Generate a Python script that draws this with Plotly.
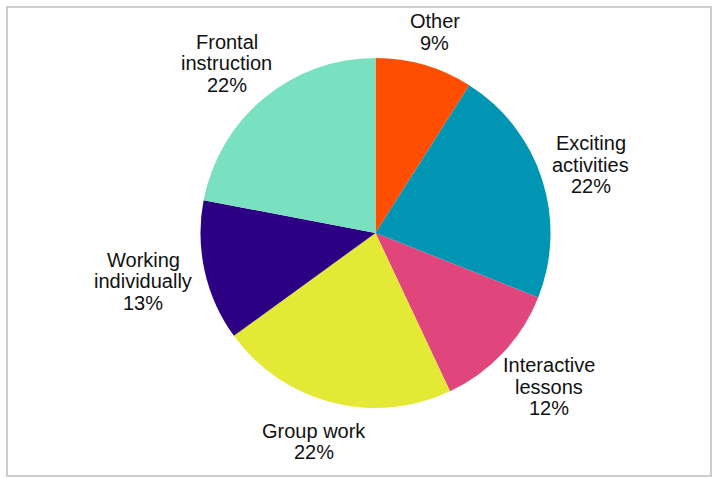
import math
import plotly.graph_objects as go

# Share of each teaching approach, clockwise from 12 o'clock
categories = ["Other", "Exciting<br>activities", "Interactive<br>lessons", "Group work",
              "Working<br>individually", "Frontal<br>instruction"]
shares = [9, 22, 12, 22, 13, 22]
colors = ["#FF4E00", "#0095B3", "#E0467C", "#E3E935", "#2D0083", "#7AE1C0"]

W, H = 715, 479
cx, cy, r = 375.5, 233, 175          # pie centre (px from top-left) and radius
FS, LS = 20, 21.5                    # label font size and line step
GAP, GAP_BELOW = 13, 6               # clearance from rim (+ extra under the pie)
FONT = "Liberation Sans, Arial, sans-serif"

# Approximate Arial advance widths (em) used to size each label line
_W = {"O": .778, "E": .667, "I": .278, "G": .778, "W": .944, "F": .611,
      "%": .889, " ": .278, "f": .278, "i": .222, "j": .222, "l": .222,
      "t": .278, "r": .333, "c": .5, "k": .5, "s": .5, "v": .5, "x": .5,
      "y": .5, "z": .5, "w": .722, "m": .833}


def text_width(s):
    return sum(_W.get(ch, .556) for ch in s) * FS


fig = go.Figure(go.Pie(
    labels=[c.replace("<br>", " ") for c in categories],
    values=shares,
    sort=False,
    direction="clockwise",
    rotation=0,
    marker=dict(colors=colors, line=dict(width=0)),
    textinfo="none",
    hoverinfo="label+value",
    showlegend=False,
    domain=dict(x=[(cx - r) / W, (cx + r) / W], y=[(H - cy - r) / H, (H - cy + r) / H]),
))

# Data labels: each block sits outside the rim at its slice's mid-angle and is
# shifted outward by its half-width / half-height scaled by that direction.
annotations = []
total = sum(shares)
cum = 0
for name, v in zip(categories, shares):
    mid = (cum + v / 2) / total * 360
    cum += v
    ux, uy = math.sin(math.radians(mid)), -math.cos(math.radians(mid))
    lines = name.split("<br>") + [f"{v}%"]
    n = len(lines)
    hw = max(text_width(t) for t in lines) / 2
    hh = n * LS / 2
    R = r + GAP + GAP_BELOW * max(uy, 0)
    px, py = cx + R * ux + hw * ux, cy + R * uy + hh * uy
    for i, t in enumerate(lines):
        ly = py + (i - (n - 1) / 2) * LS
        annotations.append(dict(
            x=px / W, y=1 - ly / H, xref="paper", yref="paper",
            text=t, showarrow=False, xanchor="center", yanchor="middle",
            font=dict(family=FONT, size=FS, color="#111111"),
        ))

fig.update_layout(
    width=W, height=H,
    margin=dict(l=0, r=0, t=0, b=0),
    paper_bgcolor="white",
    plot_bgcolor="white",
    annotations=annotations,
    shapes=[dict(type="rect", xref="paper", yref="paper",
                 x0=7 / W, x1=711 / W, y0=1 - 476 / H, y1=1 - 7 / H,
                 line=dict(color="#CDCDCD", width=2))],
)

fig.write_html("out.html")
